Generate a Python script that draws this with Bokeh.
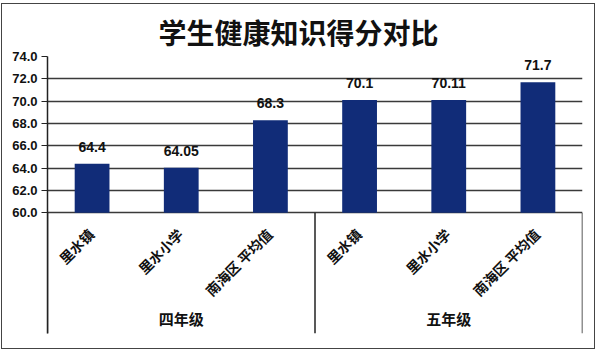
from bokeh.plotting import figure
from bokeh.models import FactorRange, Range1d, FixedTicker, NumeralTickFormatter, ColumnDataSource
from bokeh.core.properties import value
from bokeh.embed import file_html
from bokeh.resources import INLINE

title = "学生健康知识得分对比"
groups = ["四年级", "五年级"]
cats = ["里水镇", "里水小学", "南海区 平均值"]
scores_g4 = [64.4, 64.05, 68.3]
scores_g5 = [70.1, 70.11, 71.7]
y_ticks = [60, 62, 64, 66, 68, 70, 72, 74]

factors = [(g, c) for g in groups for c in cats]
scores = scores_g4 + scores_g5
labels = [str(v) for v in scores]

y_base = y_ticks[0]
y_top = y_ticks[-1]
y_start = 49.2

p = figure(width=594, height=346,
           x_range=FactorRange(factors=factors, group_padding=0, factor_padding=0, range_padding=0),
           y_range=Range1d(y_start, y_top),
           output_backend="svg", toolbar_location=None, x_axis_location=None,
           min_border_left=45, min_border_right=14, min_border_top=47, min_border_bottom=17)
p.styles = {"border": "1px solid #444", "margin-left": "1px", "margin-top": "3px"}
p.outline_line_color = None
p.background_fill_color = "white"
p.border_fill_color = "white"

p.title.text = title
p.title.text_font = "Noto Sans CJK SC"
p.title.text_font_size = "28px"
p.title.text_font_style = "bold"
p.title.align = "left"
p.title.offset = 111
p.title.text_color = "#111111"

ax = p.yaxis[0]
ax.ticker = FixedTicker(ticks=y_ticks)
ax.formatter = NumeralTickFormatter(format="0.0")
ax.major_label_text_font = "Liberation Sans"
ax.major_label_text_font_style = "bold"
ax.major_label_text_font_size = "13px"
ax.major_label_text_color = "#111111"
ax.major_tick_out = 6
ax.major_tick_in = 0
ax.minor_tick_line_color = None
ax.major_label_standoff = 4
ax.axis_line_color = "#222222"
ax.axis_line_width = 1.5
ax.major_tick_line_color = "#222222"

p.xgrid.visible = False
p.ygrid.grid_line_color = "#3a3a3a"
p.ygrid.grid_line_width = 1.6

src = ColumnDataSource(dict(x=factors, top=scores, label=labels))
p.vbar(x="x", top="top", bottom=y_base, width=0.39, source=src,
       fill_color="#112c78", line_color=None)
p.text(x="x", y="top", text="label", source=src, y_offset=-17,
       text_align="center", text_baseline="middle",
       text_font=value("Liberation Sans"), text_font_style="bold",
       text_font_size="14px", text_color="#111111")

# rotated category labels
p.text(x=factors, y=[y_base - 1.65] * len(factors), text=[c for g, c in factors],
       angle=0.785398, text_align="right", text_baseline="middle", x_offset=-1,
       text_font=value("Noto Sans CJK SC"), text_font_style="bold",
       text_font_size="14px", text_color="#111111")

# group labels
p.text(x=groups, y=[y_base - 9.5] * len(groups), text=groups,
       text_align="center", text_baseline="middle",
       text_font=value("Noto Sans CJK SC"), text_font_style="bold",
       text_font_size="15px", text_color="#111111")

# group separators
n = len(cats)
seps = [i * n for i in range(len(groups) + 1)]
p.segment(x0=seps, x1=seps, y0=[y_start] * len(seps), y1=[y_base] * len(seps),
          line_color="#222222", line_width=1.5)

open("out.html", "w").write(file_html(p, INLINE))
